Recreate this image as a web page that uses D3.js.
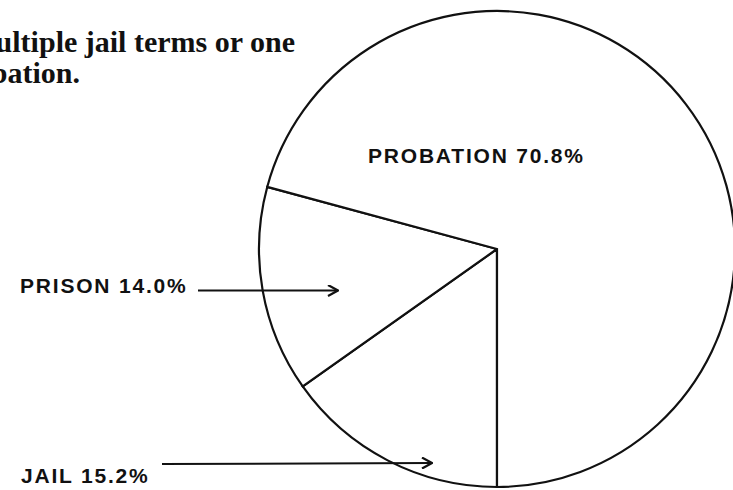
<!DOCTYPE html>
<html lang="en">
<head>
<meta charset="UTF-8">
<title>Sentences</title>
<script src="https://cdn.jsdelivr.net/npm/d3@7"></script>
<style>
  body { margin: 0; background: #fff; }
  svg { display: block; }
</style>
</head>
<body>
<div id="chart"></div>
<script>
// values
var categories = ["JAIL", "PRISON", "PROBATION"];
var values = [15.2, 14.0, 70.8];
var introLines = ["multiple jail terms or one", "probation."];

var width = 733, height = 490;
var cx = 497, cy = 249, radius = 238;

var svg = d3.select("#chart").append("svg")
    .attr("width", width)
    .attr("height", height);

// arrow head marker (open chevron)
svg.append("defs").append("marker")
    .attr("id", "head")
    .attr("viewBox", "0 0 12 12")
    .attr("refX", 11).attr("refY", 6)
    .attr("markerWidth", 12).attr("markerHeight", 12)
    .attr("markerUnits", "userSpaceOnUse")
    .attr("orient", "auto")
  .append("path")
    .attr("d", "M1,0.5 L11,6 L1,11.5")
    .attr("fill", "none")
    .attr("stroke", "#111")
    .attr("stroke-width", 2.2);

// clipped bit of body copy at top left (it runs off the edge in the original too)
svg.selectAll(".intro")
    .data(introLines)
    .enter().append("text")
    .attr("class", "intro")
    .attr("x", function(d, i) { return i == 0 ? 295 : 80; })
    .attr("y", function(d, i) { return 52 + i * 31; })
    .attr("text-anchor", "end")
    .style("font-family", "'Liberation Serif', 'DejaVu Serif', serif")
    .style("font-weight", "bold")
    .style("font-size", "30px")
    .style("fill", "#111")
    .text(function(d) { return d; });

// pie: starts straight down and runs clockwise
var pie = d3.pie()
    .sort(null)
    .startAngle(Math.PI)
    .endAngle(3 * Math.PI)
    .value(function(d) { return d; });

var arc = d3.arc().innerRadius(0).outerRadius(radius);

var g = svg.append("g").attr("transform", "translate(" + cx + "," + cy + ")");

g.selectAll(".slice")
    .data(pie(values))
    .enter().append("path")
    .attr("class", "slice")
    .attr("d", arc)
    .style("fill", "#fff")
    .style("stroke", "#111")
    .style("stroke-width", 2.2)
    .style("stroke-linejoin", "miter");

// labels
var labelFont = "'Liberation Sans', Arial, sans-serif";
var labels = [
    { x: 21, y: 483, arrow: [162, 464, 432, 463] },
    { x: 20, y: 293, arrow: [198, 290.5, 338, 290.5] },
    { x: 368, y: 163, arrow: null }
];

svg.selectAll(".label")
    .data(labels)
    .enter().append("text")
    .attr("class", "label")
    .attr("x", function(d) { return d.x; })
    .attr("y", function(d) { return d.y; })
    .style("font-family", labelFont)
    .style("font-weight", "bold")
    .style("font-size", "21px")
    .style("letter-spacing", "1.8px")
    .style("fill", "#111")
    .text(function(d, i) { return categories[i] + " " + d3.format(".1f")(values[i]) + "%"; });

svg.selectAll(".arrow")
    .data(labels.filter(function(d) { return d.arrow; }))
    .enter().append("line")
    .attr("class", "arrow")
    .attr("x1", function(d) { return d.arrow[0]; })
    .attr("y1", function(d) { return d.arrow[1]; })
    .attr("x2", function(d) { return d.arrow[2]; })
    .attr("y2", function(d) { return d.arrow[3]; })
    .style("stroke", "#111")
    .style("stroke-width", 2)
    .attr("marker-end", "url(#head)");
</script>
</body>
</html>
